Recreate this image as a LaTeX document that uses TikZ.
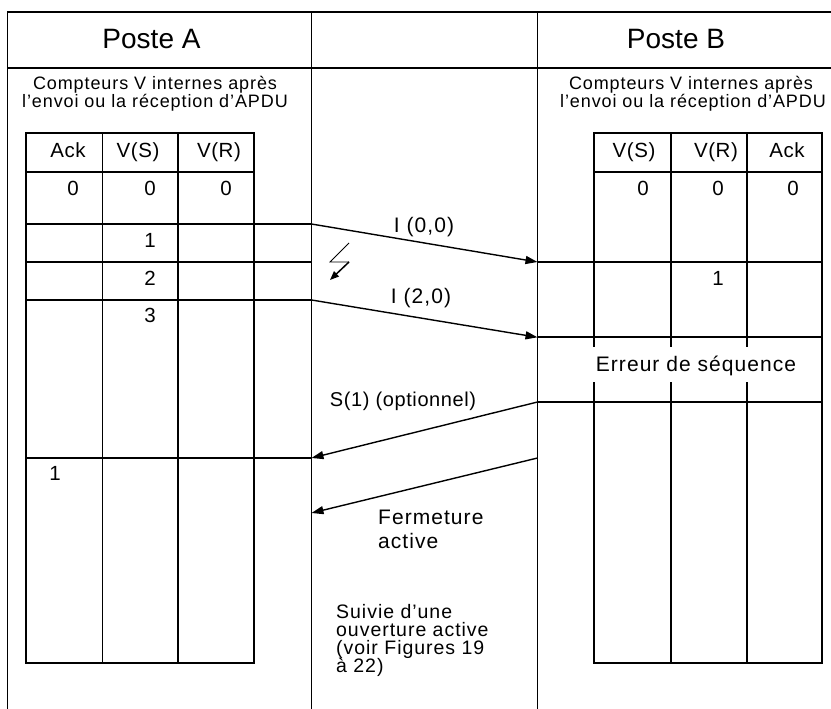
\documentclass[tikz,border=0pt]{standalone}
\usepackage{fontspec}
\setmainfont{Liberation Sans}
\newfontfamily\plainfont{Liberation Sans}
\newfontfamily\tightfont[LetterSpace=3]{Liberation Sans}
\newfontfamily\msgfont[LetterSpace=5]{Liberation Sans}
\newfontfamily\notefont[LetterSpace=5]{Liberation Sans}
\usetikzlibrary{arrows.meta}

\begin{document}
\begin{tikzpicture}[x=1pt,y=-1pt,
  rule/.style={line width=1.7pt, line cap=rect},
  msg/.style={line width=1.4pt, -{Triangle[length=12pt,width=8pt]}},
  txt/.style={inner sep=0pt, anchor=base},
  posthead/.style={txt, font=\plainfont\fontsize{28}{30}\selectfont},
  counternote/.style={txt, font=\notefont\fontsize{18}{18}\selectfont},
  cell/.style={txt, font=\tightfont\fontsize{20.5}{22}\selectfont},
  lbl/.style={txt, font=\msgfont\fontsize{21}{24}\selectfont},
  optlbl/.style={txt, font=\tightfont\fontsize{20}{24}\selectfont},
  remark/.style={txt, anchor=base west, font=\msgfont\fontsize{19.5}{18}\selectfont}]
\useasboundingbox (0,0) rectangle (831,709);

% outer frame (cut off at the right and bottom edges)
\draw[rule] (7.5,740) -- (7.5,12) -- (850,12);
\draw[rule] (7.5,68) -- (850,68);
\draw[rule] (311.5,12) -- (311.5,740);
\draw[rule] (537.5,12) -- (537.5,740);

\node[posthead] (posteA) at (151.5,48.7) {Poste A};
\node[posthead] (posteB) at (676,48.7) {Poste B};

\node[counternote] (cA1) at (155,89) {Compteurs V internes après};
\node[counternote] (cA2) at (155,107) {l’envoi ou la réception d’APDU};
\node[counternote] (cB1) at (691,89) {Compteurs V internes après};
\node[counternote] (cB2) at (693,107) {l’envoi ou la réception d’APDU};

% counter table, station A
\draw[rule] (26,133.3) rectangle (254,663);
\draw[rule] (26,171.7) -- (254,171.7);
\draw[rule] (102.5,133.3) -- (102.5,663);
\draw[rule] (178,133.3) -- (178,663);
\foreach \y in {224,262,300,458} \draw[rule] (26,\y) -- (311.5,\y);

% counter table, station B
\draw[rule] (594.3,133.3) rectangle (822.3,663);
\draw[rule] (594.3,171.7) -- (822.3,171.7);
\draw[rule] (671,133.3) -- (671,663);
\draw[rule] (746.7,133.3) -- (746.7,663);
\foreach \y in {262,337.3,402} \draw[rule] (537.5,\y) -- (822.3,\y);

% column titles
\node[cell] (hA1) at (68,157.5) {Ack};
\node[cell] (hA2) at (138,157.5) {V(S)};
\node[cell] (hA3) at (219,157.5) {V(R)};
\node[cell] (hB1) at (634,157.5) {V(S)};
\node[cell] (hB2) at (716,157.5) {V(R)};
\node[cell] (hB3) at (787,157.5) {Ack};

% counter values
\node[cell] (a0k) at (73,195) {0};
\node[cell] (a0s) at (150,195) {0};
\node[cell] (a0r) at (226,195) {0};
\node[cell] (a1s) at (150,247) {1};
\node[cell] (a2s) at (150,285) {2};
\node[cell] (a3s) at (150,322.5) {3};
\node[cell] (a1k) at (55,480) {1};
\node[cell] (b0s) at (643,195) {0};
\node[cell] (b0r) at (718,195) {0};
\node[cell] (b0k) at (793,195) {0};
\node[cell] (b1r) at (718,285.5) {1};

% sequence error label across station B columns
\fill[white] (589,347) rectangle (801,382);
\node[lbl] (err) at (696,371) {Erreur de séquence};

% message exchange
\coordinate (sA1) at (311.5,224);
\coordinate (rB1) at (537.5,262);
\coordinate (sA2) at (311.5,300);
\coordinate (rB2) at (537.5,337.3);
\coordinate (sB1) at (537.5,402);
\coordinate (rA1) at (311.5,458);
\coordinate (sB2) at (537.5,458);
\coordinate (rA2) at (311.5,513);
\draw[msg] (sA1) -- (rB1);
\draw[msg] (sA2) -- (rB2);
\draw[msg] (sB1) -- (rA1);
\draw[msg] (sB2) -- (rA2);

\node[lbl] (i00) at (424,232) {I (0,0)};
\node[lbl] (i20) at (421,303) {I (2,0)};
\node[optlbl] (s1) at (403,406) {S(1) (optionnel)};
\node[lbl, anchor=base west] (ferm1) at (378,524) {Fermeture};
\node[lbl, anchor=base west] (ferm2) at (378,548) {active};

\node[remark] (suiv1) at (336,618.5) {Suivie d’une};
\node[remark] (suiv2) at (336,636.5) {ouverture active};
\node[remark] (suiv3) at (336,654.5) {(voir Figures 19};
\node[remark] (suiv4) at (336,672.5) {à 22)};

% loss of the first frame
\coordinate (z1) at (349,243);
\coordinate (z2) at (330,262);
\coordinate (z3) at (349,262);
\coordinate (z4) at (330,280);
\draw[line width=0.8pt] (z1) -- (z2) -- (z3);
\draw[line width=1.5pt, -{Triangle[length=9pt,width=7pt]}] (z3) -- (z4);
\end{tikzpicture}
\end{document}
